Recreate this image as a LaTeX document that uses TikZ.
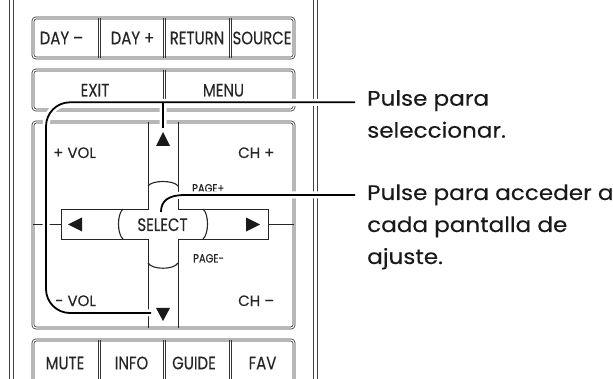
\documentclass[tikz,border=0pt]{standalone}
\usepackage{fontspec}
\setmainfont{Poppins}[FakeBold=0.25]
\newfontfamily\keyfont[FakeStretch=0.83, FakeBold=0.3]{Poppins}
\newfontfamily\notefont[FakeStretch=1.1, FakeBold=0.2]{Poppins}
\usetikzlibrary{positioning}

\begin{document}
\begin{tikzpicture}[
  x=1pt, y=-1pt,
  rail/.style={draw=black!75, line width=0.8pt},
  dbl/.style={draw=black!80, line width=0.75pt, double=white, double distance=1.2pt},
  keyframe/.style={dbl, rounded corners=3pt},
  divider/.style={draw=black!80, line width=0.8pt},
  cross/.style={draw=black!85, line width=0.8pt},
  keylbl/.style={font=\keyfont\fontsize{18}{18}\selectfont, text=black!85, inner sep=0pt, anchor=base},
  padlbl/.style={font=\fontsize{15}{15}\selectfont, text=black!85, inner sep=0pt, anchor=base west},
  pagelbl/.style={font=\keyfont\fontsize{12}{12}\selectfont, text=black!85, inner sep=0pt, anchor=base west},
  arrowkey/.style={fill=black!90},
  note/.style={font=\notefont\fontsize{21}{32}\selectfont, text=black!90, align=left, anchor=base west, inner sep=0pt},
  lead/.style={draw=black, line width=1.8pt, preaction={draw=white, line width=7pt}}
]
\useasboundingbox (0,0) rectangle (613,379);
\clip (0,0) rectangle (613,379);

% rails of the remote
\draw[rail] (9.5,0) -- (9.5,379) (13.5,0) -- (13.5,379);
\draw[rail] (313,0) -- (313,379) (317,0) -- (317,379);

% top row
\draw[keyframe] (33,18) rectangle (294,58);
\foreach \xd in {99,164,230}
  \draw[divider] (\xd-1.1,18) -- (\xd-1.1,58) (\xd+1.1,18) -- (\xd+1.1,58);
\node[keylbl] (dayminus) at (61.5,44.3) {DAY –};
\node[keylbl] (dayplus) at (132.5,44.3) {DAY +};
\node[keylbl] (return) at (197,44.3) {RETURN};
\node[keylbl] (source) at (262,44.3) {SOURCE};

% exit / menu
\draw[keyframe] (33,70) rectangle (294,110);
\draw[divider] (162.9,70) -- (162.9,110) (165.1,70) -- (165.1,110);
\node[keylbl] (exit) at (95,96.5) {EXIT};
\node[keylbl] (menu) at (223.5,96.5) {MENU};

% cross pad
\draw[keyframe] (33,122) rectangle (294,328);
\draw[cross] (148,122) -- (148,209) -- (61,209) -- (61,239) -- (148,239) -- (148,328);
\draw[cross] (178,122) -- (178,209) -- (268,209) -- (268,239) -- (178,239) -- (178,328);
\draw[cross] (33,224) -- (61,224) (268,224) -- (294,224);
% select ring
\draw[cross, line width=1.1pt] (148,186) .. controls (152,180) and (174,180) .. (178,186);
\draw[cross, line width=1.1pt] (148,263) .. controls (152,270) and (174,270) .. (178,263);
\draw[cross, line width=1.1pt] (123,209) .. controls (117,214) and (117,234) .. (123,239);
\draw[cross, line width=1.1pt] (203,209) .. controls (209,214) and (209,234) .. (203,239);

\fill[arrowkey] (163,132) -- (156,146) -- (170,146) -- cycle;
\fill[arrowkey] (163,321) -- (156,308) -- (170,308) -- cycle;
\fill[arrowkey] (68,224.5) -- (82,217.5) -- (82,231.5) -- cycle;
\fill[arrowkey] (260,224.5) -- (246,217.5) -- (246,231.5) -- cycle;

\node[padlbl] (volplus) at (53,158) {+ VOL};
\node[padlbl] (chplus) at (238,158) {CH +};
\node[pagelbl] (pageup) at (192,192.5) {PAGE+};
\node[keylbl] (select) at (162.5,231) {SELECT};
\node[pagelbl] (pagedown) at (193,262.5) {PAGE-};
\node[padlbl] (volminus) at (55,306) {- VOL};
\node[padlbl] (chminus) at (238,306) {CH –};

% bottom row
\draw[keyframe] (33,340) rectangle (294,390);
\foreach \xd in {99,164,230}
  \draw[divider] (\xd-1.1,340) -- (\xd-1.1,390) (\xd+1.1,340) -- (\xd+1.1,390);
\node[keylbl] (mute) at (65,369.3) {MUTE};
\node[keylbl] (info) at (131.5,369.3) {INFO};
\node[keylbl] (guide) at (194,369.3) {GUIDE};
\node[keylbl] (fav) at (262.5,369.3) {FAV};

% callouts
\node[note] (navnote) at (367,137.7) {Pulse para\\seleccionar.};
\node[note] (selnote) at (367,264) {Pulse para acceder a\\cada pantalla de\\ajuste.};
\coordinate (navend) at (355,102.3);
\coordinate (selend) at (355,195);
\coordinate (upkey) at (163,128);
\coordinate (downkey) at (151,313);
\coordinate (navjoin) at (163,102.3);
\coordinate (selkey) at (161,212);

\draw[lead, rounded corners=24pt] (downkey) -- (46,313) -- (46,102.3) -- (navend)
  (upkey) -- (navjoin);
\draw[lead] (selkey) .. controls (161,201) and (168,195) .. (185,195) -- (selend);
\end{tikzpicture}
\end{document}
